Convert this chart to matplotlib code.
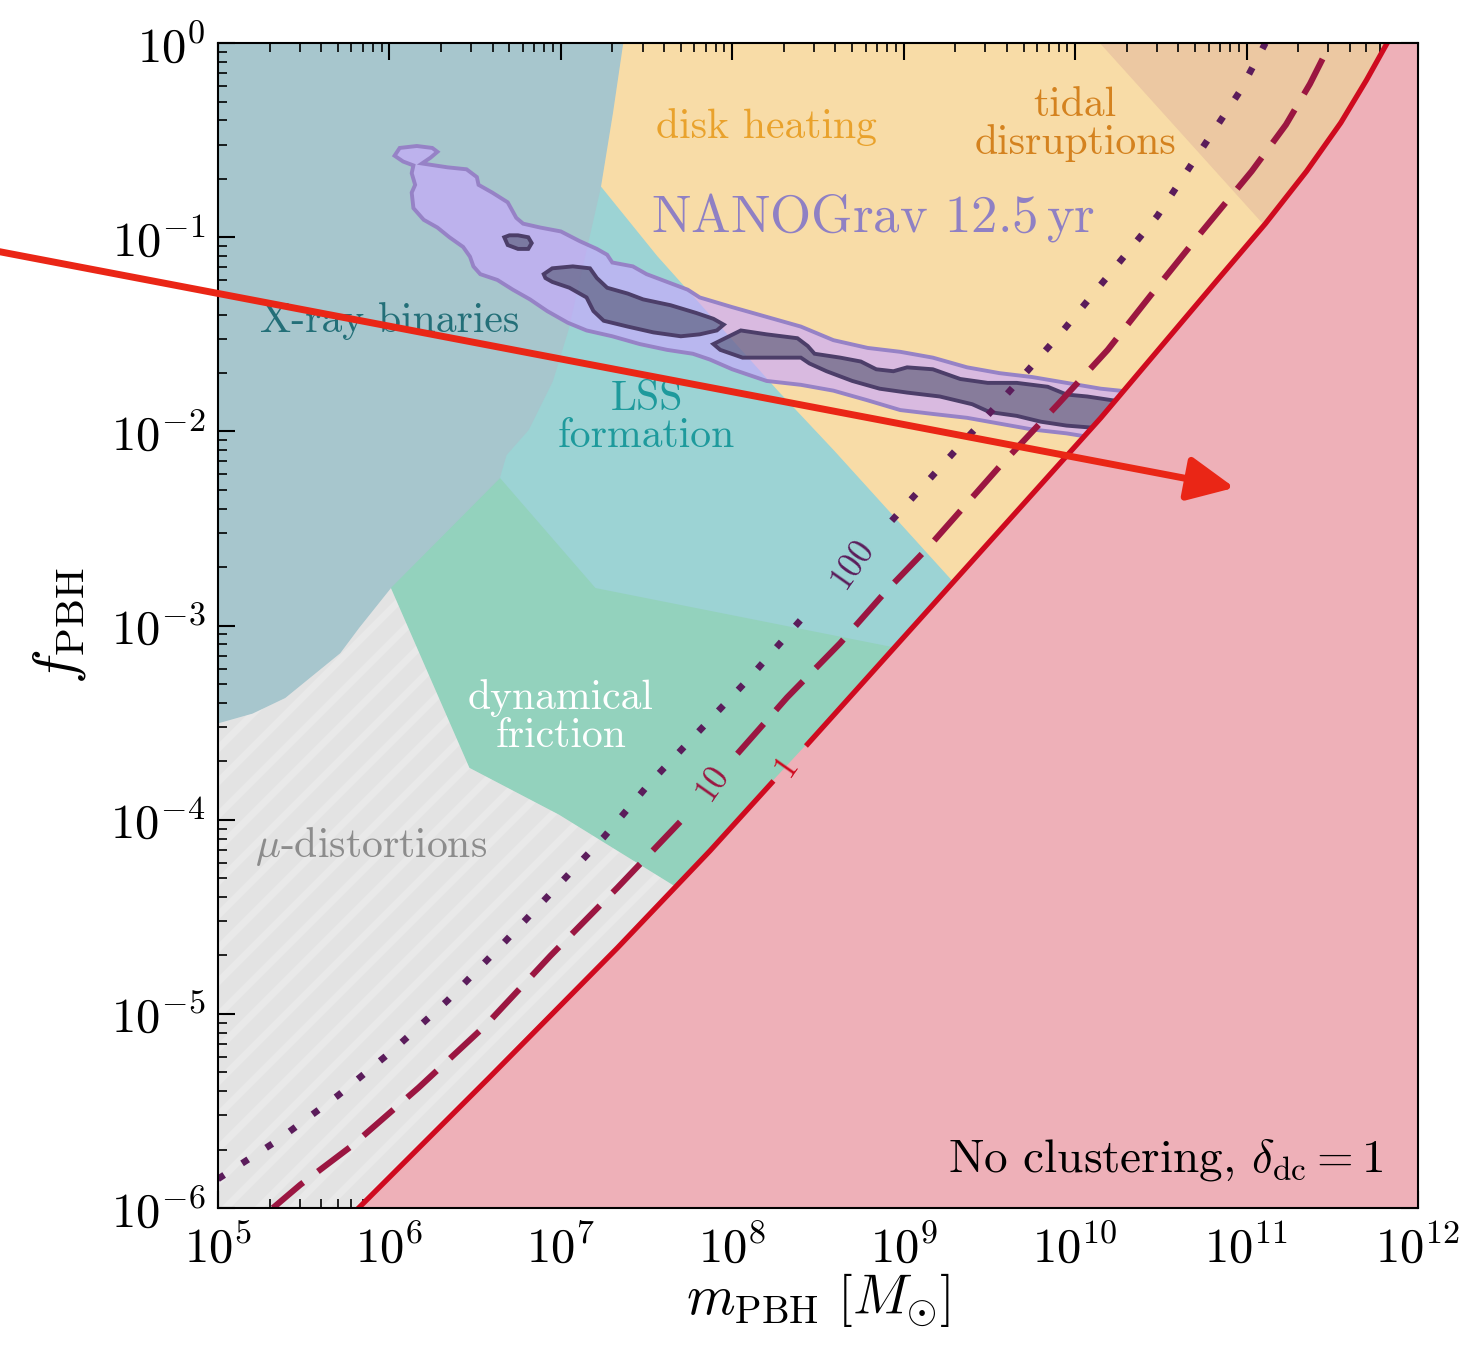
import numpy as np
import matplotlib.pyplot as plt
from matplotlib.ticker import LogLocator, NullFormatter

plt.rcParams['font.family'] = 'serif'
plt.rcParams['font.serif'] = ['cmr10']
plt.rcParams['mathtext.fontset'] = 'cm'
plt.rcParams['axes.formatter.use_mathtext'] = True
plt.rcParams['hatch.linewidth'] = 5

# all values are log10(m_PBH / M_sun) and log10(f_PBH)

# bounds for no clustering / delta_dc = 1, 10, 100 (labels sit in a gap)
red_logm = [5.82, 6.58, 7.33, 7.87, 8.23, 8.44, 9.56, 10.15, 10.60, 10.83, 11.11, 11.35, 11.55, 11.70, 11.82]
red_logf = [-6.00, -5.33, -4.66, -4.16, -3.81, -3.61, -2.51, -1.93, -1.46, -1.22, -0.93, -0.66, -0.41, -0.19, 0.00]
red_gap = 5

dash_logm = [5.32, 5.48, 5.78, 6.17, 6.56, 6.94, 7.33, 7.74, 8.03, 8.32, 8.63, 8.90, 9.14, 9.56,
             9.90, 10.19, 10.44, 10.74, 11.03, 11.23, 11.37, 11.49]
dash_logf = [-6.00, -5.88, -5.68, -5.38, -5.06, -4.70, -4.35, -3.97, -3.66, -3.37, -3.09, -2.82, -2.60, -2.18,
             -1.86, -1.58, -1.30, -0.97, -0.66, -0.42, -0.21, 0.00]
dash_gap = 8

dot_logm = [5.00, 5.35, 5.70, 6.03, 6.34, 6.65, 6.94, 7.25, 7.52, 7.81, 8.10, 8.40, 8.47,
            8.93, 9.29, 9.59, 9.93, 10.21, 10.48, 10.72, 10.96, 11.11]
dot_logf = [-5.85, -5.65, -5.42, -5.18, -4.93, -4.65, -4.38, -4.09, -3.81, -3.54, -3.27, -2.97, -2.91,
            -2.46, -2.11, -1.82, -1.48, -1.18, -0.89, -0.57, -0.25, 0.00]
dot_gap = 13

# constraint regions
xray_logm = [5.00, 7.36, 7.30, 7.23, 7.13, 7.04, 6.95, 6.81, 6.68, 6.64, 6.01, 5.82, 5.71, 5.39, 5.20, 5.00]
xray_logf = [0.00, 0.00, -0.36, -0.74, -1.13, -1.48, -1.74, -1.99, -2.12, -2.24, -2.80, -3.01, -3.14, -3.37, -3.45, -3.50]

lss_logm = [7.23, 7.56, 8.26, 8.59, 9.34, 9.33, 8.91, 7.20, 6.64, 6.50, 6.80, 7.10]
lss_logf = [-0.74, -1.10, -1.79, -2.10, -2.83, -3.18, -3.11, -2.81, -2.24, -2.00, -1.20, -0.80]

dyn_logm = [6.64, 7.20, 8.91, 9.33, 7.93, 7.65, 6.99, 6.47, 6.01]
dyn_logf = [-2.24, -2.81, -3.11, -3.18, -4.48, -4.33, -3.97, -3.73, -2.80]

disk_logm = [7.36, 12.0, 12.0, 9.34, 8.59, 8.26, 7.56, 7.23, 7.10, 7.10]
disk_logf = [0.00, 0.00, -2.90, -2.83, -2.10, -1.79, -1.10, -0.74, -0.74, 0.00]

tidal_logm = [10.15, 12.0, 12.0, 11.20, 11.10]
tidal_logf = [0.00, 0.00, -1.03, -1.03, -0.93]

mu_logm = [5.00, 5.00, 6.01, 6.47, 6.99, 7.65, 7.93, 7.50]
mu_logf = [-6.00, -3.30, -2.80, -3.73, -3.97, -4.33, -4.48, -6.00]

# NANOGrav 12.5 yr posterior, 95% (outer) and 68% (inner) contours
outer_logm = [6.14, 6.08, 6.03, 6.06, 6.16, 6.25, 6.28, 6.24, 6.19, 6.34, 6.45, 6.51, 6.52, 6.60, 6.69,
              6.74, 6.78, 6.88, 7.00, 7.11, 7.21, 7.27, 7.30, 7.42, 7.50, 7.62, 7.74, 7.81, 8.00, 8.20,
              8.40, 8.59, 8.79, 8.98, 9.17, 9.37, 9.56, 9.75, 9.95, 10.15, 10.26, 10.35, 10.12,
              10.09, 9.95, 9.75, 9.56, 9.37, 9.17, 8.98, 8.79, 8.59, 8.40, 8.20, 8.00, 7.87, 7.77,
              7.62, 7.46, 7.30, 7.15, 7.04, 6.92, 6.82, 6.72, 6.63, 6.53, 6.49, 6.47, 6.43, 6.35,
              6.28, 6.20, 6.14, 6.13, 6.15, 6.13]
outer_logf = [-0.63, -0.61, -0.58, -0.54, -0.53, -0.54, -0.56, -0.59, -0.62, -0.64, -0.65, -0.69, -0.73, -0.77, -0.82,
              -0.90, -0.93, -0.95, -0.97, -1.02, -1.06, -1.09, -1.13, -1.15, -1.19, -1.23, -1.27, -1.31, -1.36, -1.41,
              -1.46, -1.53, -1.57, -1.59, -1.62, -1.67, -1.70, -1.72, -1.75, -1.78, -1.79, -1.80, -2.06,
              -2.03, -2.01, -1.99, -1.96, -1.93, -1.91, -1.89, -1.84, -1.79, -1.76, -1.74, -1.68, -1.63, -1.60,
              -1.58, -1.55, -1.51, -1.48, -1.44, -1.38, -1.32, -1.27, -1.22, -1.19, -1.15, -1.10, -1.05, -1.00,
              -0.95, -0.91, -0.85, -0.77, -0.73, -0.67]

in0_logm = [6.67, 6.70, 6.75, 6.81, 6.83, 6.81, 6.75, 6.69]
in0_logf = [-1.00, -0.99, -0.99, -1.00, -1.03, -1.06, -1.06, -1.04]

in1_logm = [6.90, 6.95, 7.07, 7.17, 7.21, 7.27, 7.39, 7.48, 7.64, 7.79, 7.89, 7.95, 7.91, 7.81, 7.70,
            7.54, 7.39, 7.25, 7.19, 7.15, 7.05, 6.95, 6.91]
in1_logf = [-1.19, -1.16, -1.15, -1.16, -1.21, -1.26, -1.29, -1.32, -1.35, -1.39, -1.42, -1.45, -1.48, -1.50, -1.51,
            -1.49, -1.46, -1.43, -1.38, -1.31, -1.26, -1.23, -1.21]

in2_logm = [7.89, 8.05, 8.20, 8.38, 8.44, 8.48, 8.63, 8.75, 8.84, 8.94, 9.02, 9.17, 9.33, 9.49, 9.66,
            9.84, 9.95, 10.07, 10.22, 10.32, 10.15, 10.09, 9.95, 9.80, 9.66, 9.50, 9.40, 9.21, 9.02,
            8.86, 8.70, 8.55, 8.45, 8.40, 8.20, 8.06, 7.93]
in2_logf = [-1.55, -1.48, -1.50, -1.52, -1.56, -1.60, -1.62, -1.64, -1.68, -1.69, -1.67, -1.68, -1.73, -1.75, -1.75,
            -1.77, -1.81, -1.82, -1.84, -1.85, -2.00, -1.98, -1.97, -1.95, -1.92, -1.90, -1.86, -1.82, -1.80,
            -1.78, -1.74, -1.69, -1.65, -1.62, -1.62, -1.62, -1.58]

curve_labels = ['1', '10', '100']


def p(a):
    return 10.0 ** np.asarray(a)


fig = plt.figure(figsize=(14.65, 13.51), dpi=100)
ax = fig.add_axes([0.1488, 0.1058, 0.8191, 0.8623])
ax.set_xscale('log')
ax.set_yscale('log')

# regions
ax.fill(p(mu_logm), p(mu_logf), facecolor='#e3e3e3', edgecolor='#e9e9e9', lw=0, hatch='/', zorder=1)
ax.fill(p(disk_logm), p(disk_logf), color='#f8dca7', lw=1, zorder=1)
ax.fill(p(tidal_logm), p(tidal_logf), color='#ecc8a2', lw=1, zorder=1.1)
ax.fill(p(lss_logm), p(lss_logf), color='#9cd3d4', lw=1, zorder=1.1)
ax.fill(p(dyn_logm), p(dyn_logf), color='#93d2bd', lw=1, zorder=1.2)
ax.fill(p(xray_logm), p(xray_logf), color='#a7c6cd', lw=1, zorder=1.3)

# NANOGrav contours
ax.fill(p(outer_logm), p(outer_logf), facecolor=(0.79, 0.66, 1.0, 0.65), edgecolor='#9682c6',
        lw=2.8, zorder=1.5)
for lm, lf in [(in0_logm, in0_logf), (in1_logm, in1_logf), (in2_logm, in2_logf)]:
    ax.fill(p(lm), p(lf), facecolor=(0.27, 0.29, 0.39, 0.55), edgecolor='#4c3e69', lw=2.8, zorder=1.6)

# excluded by the bound itself
ax.fill(p(red_logm + [12.0, 12.0]), p(red_logf + [0.0, -6.0]), color='#eeb0b8', lw=1, zorder=1.8)

# bound curves
red_c, dash_c, dot_c = '#cf0a1f', '#9b1641', '#5b1c5b'
for sl in [slice(0, red_gap), slice(red_gap, None)]:
    ax.plot(p(red_logm[sl]), p(red_logf[sl]), color=red_c, lw=3.8, zorder=2)
for sl in [slice(0, dash_gap), slice(dash_gap, None)]:
    ax.plot(p(dash_logm[sl]), p(dash_logf[sl]), color=dash_c, lw=4.4, dashes=(6.5, 3), zorder=2)
for sl in [slice(0, dot_gap), slice(dot_gap, None)]:
    ax.plot(p(dot_logm[sl]), p(dot_logf[sl]), color=dot_c, lw=4.8, dashes=(1.1, 3.2), zorder=2)

ax.text(p(8.32), p(-3.72), curve_labels[0], color=red_c, fontsize=25, rotation=55,
        ha='center', va='center', zorder=3)
ax.text(p(7.885), p(-3.81), curve_labels[1], color=dash_c, fontsize=25, rotation=55,
        ha='center', va='center', zorder=3)
ax.text(p(8.70), p(-2.68), curve_labels[2], color=dot_c, fontsize=25, rotation=55,
        ha='center', va='center', zorder=3)

# region labels
ax.text(p(8.20), p(-0.43), 'disk heating', color='#e9a22c', fontsize=30, ha='center', va='center')
ax.text(p(10.00), p(-0.42), 'tidal\ndisruptions', color='#d4821f', fontsize=30, ha='center',
        va='center', linespacing=1.0)
ax.text(p(8.82), p(-0.90), r'NANOGrav 12.5$\,$yr', color='#8f80c4', fontsize=38, ha='center', va='center')
ax.text(p(6.00), p(-1.43), 'X-ray binaries', color='#236f78', fontsize=30, ha='center', va='center')
ax.text(p(7.50), p(-1.93), 'LSS\nformation', color='#1e9a9c', fontsize=30, ha='center', va='center',
        linespacing=1.0)
ax.text(p(7.00), p(-3.47), 'dynamical\nfriction', color='white', fontsize=30, ha='center', va='center',
        linespacing=1.0)
ax.text(p(5.89), p(-4.14), r'$\mu$-distortions', color='#8c8c8c', fontsize=30, ha='center', va='center')
ax.text(0.971, 0.031, r'No clustering, $\delta_{\rm dc} = 1$', transform=ax.transAxes,
        fontsize=34, ha='right', va='baseline', zorder=3)

# the red arrow drawn over the figure
ax.annotate('', xy=(p(10.93), p(-2.29)), xytext=(p(3.70), p(-1.07)),
            arrowprops=dict(arrowstyle='-|>,head_length=0.95,head_width=0.45', mutation_scale=30,
                            color='#ea2616', lw=5, shrinkA=0, shrinkB=0),
            annotation_clip=False, zorder=10)

ax.set_xlim(1e5, 1e12)
ax.set_ylim(1e-6, 1e0)
ax.xaxis.set_major_locator(LogLocator(base=10, numticks=20))
ax.xaxis.set_minor_locator(LogLocator(base=10, subs=np.arange(2, 10), numticks=100))
ax.xaxis.set_minor_formatter(NullFormatter())
ax.yaxis.set_major_locator(LogLocator(base=10, numticks=20))
ax.yaxis.set_minor_locator(LogLocator(base=10, subs=np.arange(2, 10), numticks=100))
ax.yaxis.set_minor_formatter(NullFormatter())
ax.tick_params(which='both', direction='in', top=True, right=True, labelsize=35)
ax.tick_params(axis='x', which='major', pad=12)
ax.tick_params(axis='y', which='major', pad=9)
ax.tick_params(which='major', length=12, width=1.5)
ax.tick_params(which='minor', length=6.5, width=1.2)
for s in ax.spines.values():
    s.set_linewidth(1.5)
    s.set_zorder(5)

ax.set_xlabel(r'$m_{\rm PBH}\ \left[M_{\odot}\right]$', fontsize=40, labelpad=0)
ax.set_ylabel(r'$f_{\rm PBH}$', fontsize=42, labelpad=16)

fig.savefig('out.png', dpi=100)
